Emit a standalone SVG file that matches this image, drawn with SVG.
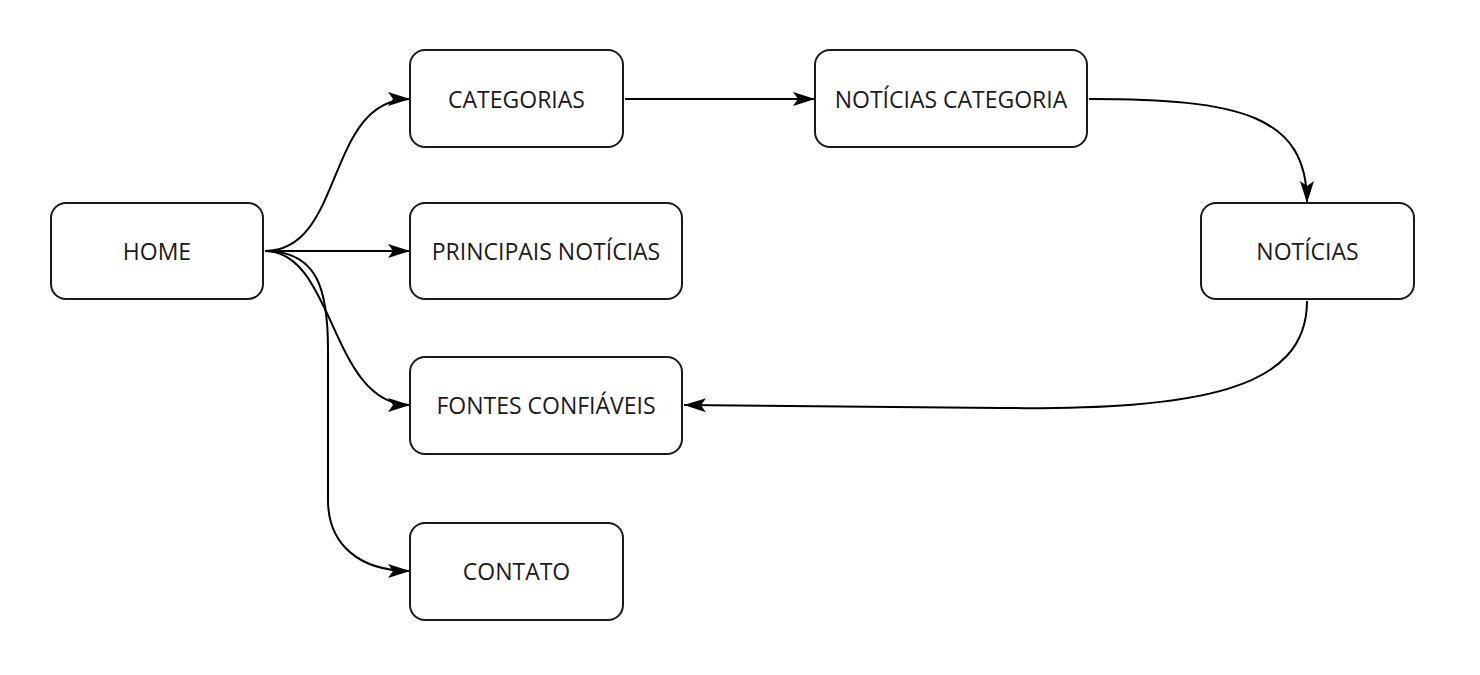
<svg xmlns="http://www.w3.org/2000/svg" width="1480" height="675" viewBox="0 0 1480 675">
<style>
.box{fill:#fff;stroke:#1a1a1a;stroke-width:2}
.lbl{font-family:"Open Sans","Noto Sans",sans-serif;font-size:23px;fill:#1a1a1a;text-anchor:middle;dominant-baseline:central}
.edge{fill:none;stroke:#000;stroke-width:2;marker-end:url(#arr)}
</style>
<defs>
<marker id="arr" markerUnits="userSpaceOnUse" markerWidth="24" markerHeight="16" refX="22" refY="8" orient="auto">
<path d="M0,1 L22,8 L0,15 L5,8 Z" fill="#000"/>
</marker>
</defs>
<rect width="1480" height="675" fill="#fff"/>
<g id="connectors">
<path class="edge" d="M265,251 C345,251 325,99 410,99"/>
<path class="edge" d="M265,251 L410,251"/>
<path class="edge" d="M265,251 C335,251 330,405 410,405"/>
<path class="edge" d="M265,251 C318,251 328,290 328,350 L328,500 C328,545 360,571 410,571"/>
<path class="edge" d="M625,99 L815,99"/>
<path class="edge" d="M1089,99 C1240,99 1307,115 1307,203"/>
<path class="edge" d="M1307,301 C1307,390 1200,410 1000,408 L684,405"/>
</g>
<g id="home"><rect class="box" x="51" y="203" width="212" height="96" rx="15"/><text class="lbl" x="157" y="251">HOME</text></g>
<g id="categorias"><rect class="box" x="410" y="50" width="213" height="97" rx="15"/><text class="lbl" x="516.5" y="99">CATEGORIAS</text></g>
<g id="noticias-categoria"><rect class="box" x="815" y="50" width="272" height="97" rx="15"/><text class="lbl" x="951" y="99">NOTÍCIAS CATEGORIA</text></g>
<g id="principais-noticias"><rect class="box" x="410" y="203" width="272" height="96" rx="15"/><text class="lbl" x="546" y="251">PRINCIPAIS NOTÍCIAS</text></g>
<g id="noticias"><rect class="box" x="1201" y="203" width="213" height="96" rx="15"/><text class="lbl" x="1307.5" y="251">NOTÍCIAS</text></g>
<g id="fontes-confiaveis"><rect class="box" x="410" y="357" width="272" height="97" rx="15"/><text class="lbl" x="546" y="405">FONTES CONFIÁVEIS</text></g>
<g id="contato"><rect class="box" x="410" y="523" width="213" height="97" rx="15"/><text class="lbl" x="516.5" y="571">CONTATO</text></g>
</svg>
